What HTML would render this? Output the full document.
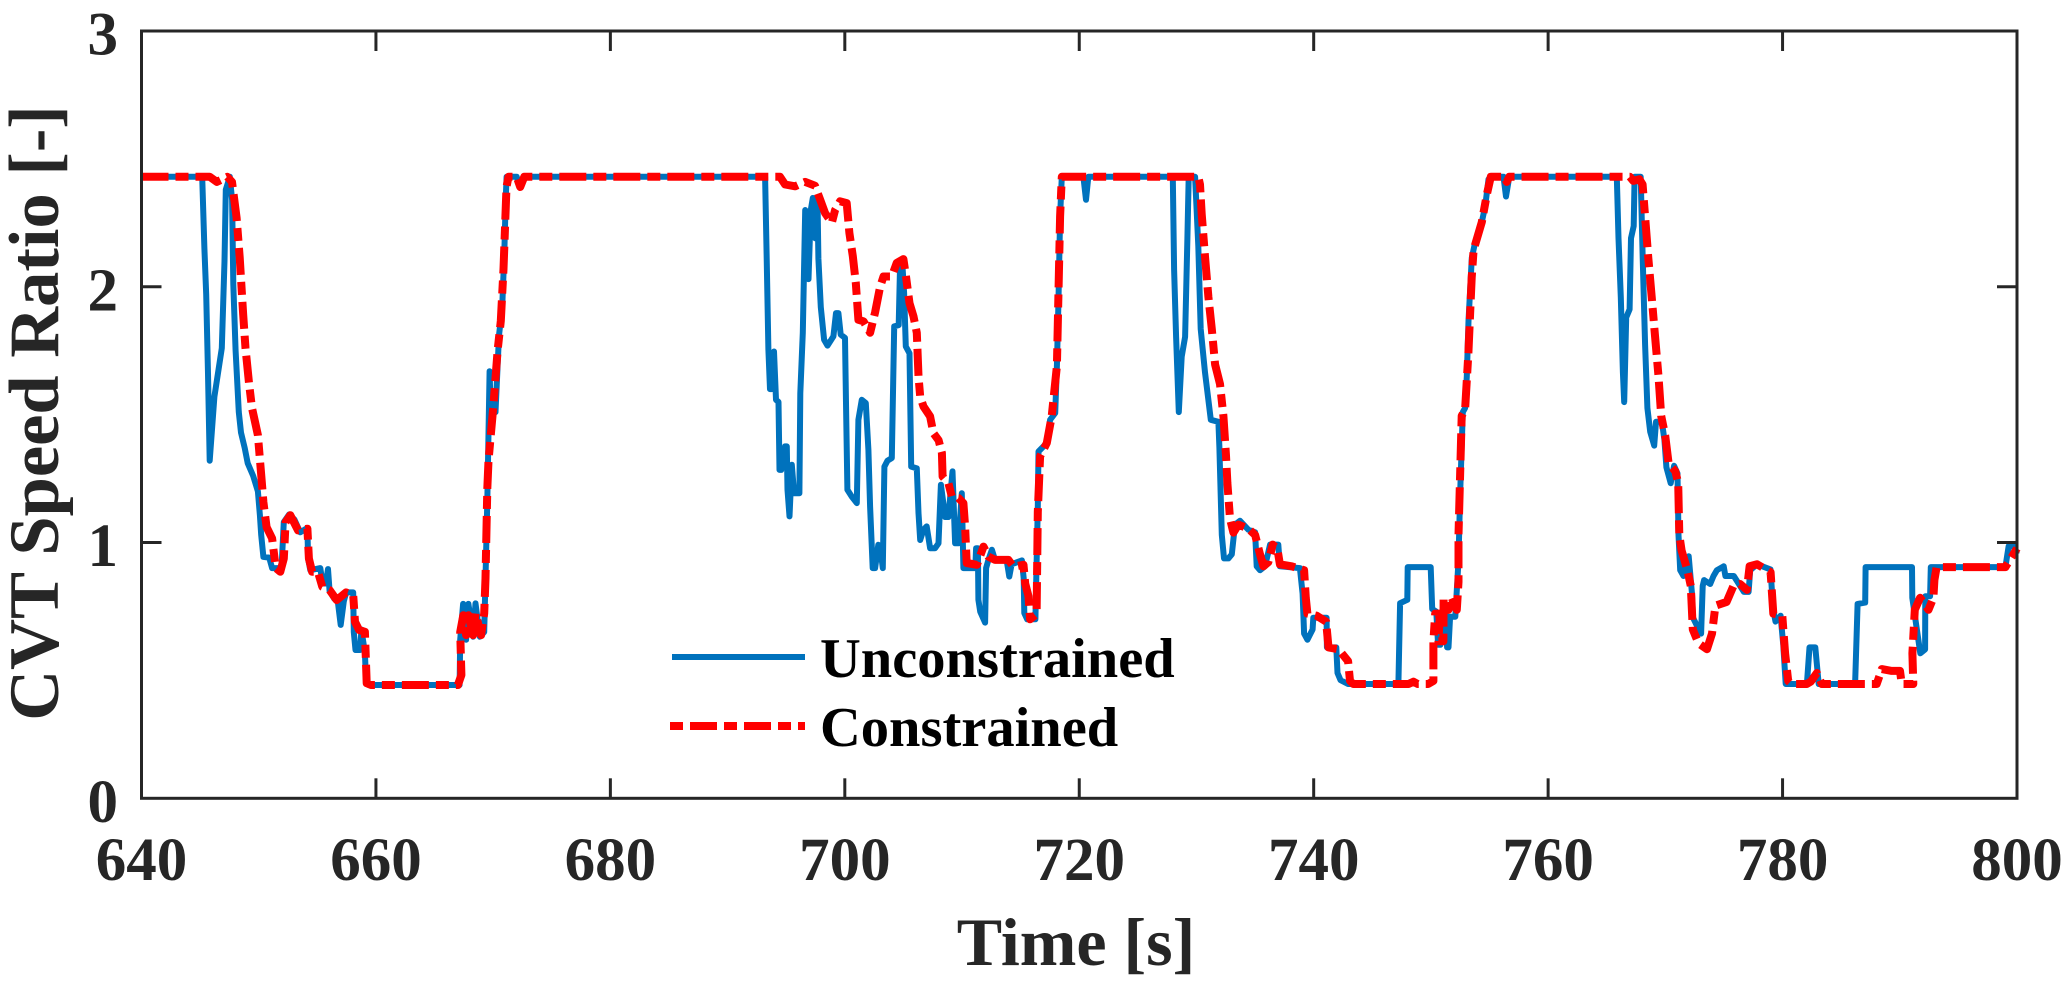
<!DOCTYPE html>
<html lang="en">
<head>
<meta charset="utf-8">
<title>CVT Speed Ratio vs Time</title>
<style>
html,body{margin:0;padding:0;background:#fff;}
svg{display:block;font-family:"Liberation Serif",serif;font-weight:bold;}
</style>
</head>
<body>
<svg id="chart" xmlns="http://www.w3.org/2000/svg" width="2067" height="988" viewBox="0 0 2067 988">
  <rect x="0" y="0" width="2067" height="988" fill="#fff"/>
  <g id="series-layer"></g>
  <g id="axis-layer"></g>
  <text x="1076" y="965" font-size="68" text-anchor="middle" fill="#262626">Time [s]</text>
  <text transform="translate(58,413) rotate(-90)" font-size="70.5" text-anchor="middle" fill="#262626">CVT Speed Ratio [-]</text>
  <g>
    <line x1="672" y1="657" x2="805" y2="657" stroke="#0072BD" stroke-width="6"/>
    <text x="820" y="677" font-size="56.5" fill="#000">Unconstrained</text>
    <line x1="670" y1="726" x2="805" y2="726" stroke="#FF0000" stroke-width="8" stroke-dasharray="13 7 27 7"/>
    <text x="820" y="746" font-size="56.5" fill="#000">Constrained</text>
  </g>
</svg>
<script>
const xTickLabels = [640, 660, 680, 700, 720, 740, 760, 780, 800];
const yTickLabels = [0, 1, 2, 3];

const unconstrainedTimes = [
640,645.18,645.37,645.52,645.67,645.82,646.22,646.85,647.08,647.19,
647.53,647.73,647.83,648.03,648.3,648.49,648.8,649.06,649.53,649.93,
650.1,650.21,650.4,650.89,651.14,651.94,652.14,652.6,653.04,653.54,
654.15,654.21,654.4,655.25,655.45,655.72,655.91,656.05,656.45,656.75,
656.99,657.26,657.46,658.06,658.11,658.26,658.66,658.76,659.06,659.16,
659.37,667.14,667.19,667.44,667.69,667.89,668.29,668.49,668.86,669.24,
669.35,669.5,669.7,669.8,670.2,670.5,670.77,670.95,671.07,671.15,
672.01,672.31,672.66,693.2,693.34,693.48,693.62,693.76,693.96,694.13,
694.34,694.43,694.57,694.91,695.05,695.11,695.28,695.48,695.67,696.13,
696.2,696.42,696.62,696.9,697.1,697.27,697.47,697.67,697.75,697.95,
698.23,698.52,699.03,699.25,699.45,699.65,700.02,700.1,700.22,700.59,
701.02,701.16,701.45,701.79,702.01,702.16,702.38,702.58,702.86,703.01,
703.24,703.38,703.64,704.01,704.21,704.6,704.72,704.89,705.06,705.2,
705.52,705.66,706.14,706.29,706.43,706.71,706.99,707.28,707.7,707.99,
708.2,708.56,708.84,709.19,709.41,709.7,709.98,710.12,711.13,711.2,
711.35,711.4,711.55,711.97,712.05,712.25,712.55,712.81,713.8,714.03,
714.23,715.11,715.26,715.31,715.56,716.26,716.46,716.52,717.23,717.51,
717.95,718.09,718.23,718.37,718.51,720.35,720.58,720.77,727.98,728.09,
728.26,728.49,728.74,729.03,729.23,729.34,729.88,730.16,730.36,730.73,
731.02,731.22,731.87,731.96,732.16,732.35,732.72,733.01,733.29,733.71,
734.42,735,735.14,735.42,735.85,736.28,736.98,737.12,738.82,739.05,
739.18,739.46,739.91,739.97,741.1,741.13,741.93,742.03,742.29,742.93,
747.23,747.37,747.99,748.02,749.98,750.11,750.46,750.61,750.81,750.96,
751.28,751.38,751.5,751.64,752.08,752.35,752.49,752.72,752.92,753.06,
753.21,753.49,753.78,754.34,754.63,754.91,755.11,756.19,756.41,756.69,
765.86,766,766.2,766.38,766.49,766.66,766.95,767.07,767.3,767.38,
767.9,768.07,768.27,768.47,768.71,769.05,769.2,769.71,769.92,770.09,
770.46,770.75,771.04,771.12,771.27,771.55,771.99,772.27,772.36,772.85,
773.05,773.19,773.31,773.83,774.11,774.4,774.98,775.12,775.84,776.7,
777.1,777.24,777.82,778.97,779.2,779.4,779.83,780.06,780.27,782.08,
782.3,782.79,783.08,786.19,786.4,787.05,787.08,791.04,791.07,791.75,
792.16,792.18,792.59,792.65,799.01,799.28,799.7,800
];
const unconstrainedRatios = [
2.43,2.43,2.15,1.97,1.66,1.32,1.57,1.76,2.1,2.38,
2.43,2.34,2.01,1.75,1.51,1.43,1.37,1.31,1.26,1.2,
1.107,1.03,.944,.941,.9,.9,1.08,1.11,1.09,1.04,
1.057,.937,.892,.9,.84,.84,.896,.81,.78,.77,
.678,.77,.805,.805,.65,.58,.58,.66,.57,.45,
.443,.443,.62,.76,.62,.76,.632,.762,.632,.65,
.86,1.16,1.67,1.5,1.51,1.81,1.92,2.13,2.34,2.43,
2.43,2.39,2.43,2.43,2.11,1.754,1.6,1.6,1.747,1.558,
1.55,1.284,1.284,1.376,1.376,1.206,1.102,1.304,1.193,1.193,
1.584,1.82,2.3,2.03,2.3,2.347,2.19,2.34,2.11,1.92,
1.793,1.77,1.806,1.897,1.897,1.813,1.8,1.545,1.206,1.18,
1.154,1.48,1.558,1.545,1.363,1.14,.9,.9,.991,.985,
.9,1.297,1.32,1.33,1.845,1.85,2.09,2.106,1.976,1.767,
1.74,1.297,1.29,1.115,1.01,1.05,1.063,.978,.978,.997,
1.226,1.1,1.1,1.278,.997,.997,1.193,.9,.9,.978,
.978,.776,.73,.687,.9,.932,.972,.932,.932,.867,
.915,.93,.86,.724,.7,.7,1.14,1.356,1.389,1.48,
1.506,1.69,1.95,2.275,2.43,2.43,2.34,2.43,2.43,2.067,
1.804,1.51,1.727,1.804,2.19,2.43,2.43,2.16,1.835,1.665,
1.557,1.48,1.472,1.371,1.03,.938,.938,.954,1.07,1.085,
1.05,1.04,.907,.892,.907,.992,.992,.907,.9,.8,
.644,.62,.66,.706,.706,.59,.59,.49,.462,.447,
.447,.763,.776,.904,.904,.74,.73,.6,.6,.73,
.72,.59,.59,.71,.71,.93,1.186,1.51,1.526,1.65,
1.866,2.113,2.175,2.253,2.315,2.42,2.43,2.43,2.353,2.43,
2.43,2.19,1.96,1.665,1.549,1.88,1.912,2.19,2.237,2.43,
2.43,2.113,1.773,1.526,1.433,1.379,1.472,1.472,1.402,1.294,
1.232,1.3,1.27,1.03,.892,.869,.946,.799,.706,.66,
.644,.83,.853,.838,.869,.892,.907,.869,.869,.807,
.807,.892,.915,.895,.737,.691,.714,.598,.447,.447,
.59,.59,.447,.447,.76,.765,.904,.904,.784,.567,
.582,.79,.79,.904,.904,.985,.985,.954
];

const constrainedTimes = [
640,645.82,646.42,647.32,647.72,648.11,648.38,648.68,648.87,649.18,
649.43,649.93,650.21,650.4,650.67,651.14,651.46,651.84,652.14,652.29,
652.69,653.35,654.15,654.28,654.55,655.05,655.42,656.05,656.65,657.45,
658.06,658.21,658.56,659.06,659.21,659.57,666.99,667.29,667.19,667.45,
667.69,667.89,668.29,668.49,668.97,669.24,669.35,669.5,669.6,670,
670.38,670.65,670.88,671.14,671.31,672.01,672.31,672.66,694.47,694.91,
695.76,696.61,697.46,697.9,698.32,698.89,699.17,699.6,700.16,700.39,
700.68,700.94,701.16,701.59,702.16,702.58,703.01,703.3,704.01,704.43,
705,705.22,705.52,705.86,706.14,706.29,706.43,706.71,707.28,707.56,
708,708.28,708.34,708.84,709.13,709.7,710.12,710.26,710.4,711.27,
711.83,712.25,712.82,713.96,714.38,715.24,715.39,715.67,715.81,716.36,
716.46,716.66,717.23,717.65,718.09,718.37,718.51,730.16,730.3,730.45,
730.74,731.02,731.31,731.59,732.01,732.3,732.52,732.64,732.86,733.15,
733.58,734.42,735,735.42,735.71,736.13,736.5,736.9,737.12,738.12,
739.18,739.33,739.46,740.25,741.06,741.26,742.11,742.94,743.1,743.39,
748.09,748.51,748.87,749.77,750.21,750.21,750.37,750.77,750.64,751.07,
751.08,751.5,751.78,752.21,752.35,752.35,752.63,752.92,753.2,753.48,
753.64,754.34,754.77,755.11,756.29,756.47,756.69,766.98,767.27,767.79,
768.06,768.26,768.55,768.84,769.13,769.42,769.65,769.99,770.28,770.86,
771.1,771.19,771.39,771.88,772.17,772.34,772.83,773.55,773.98,774.27,
775.23,775.81,776.38,776.96,777.19,777.83,778.98,779.21,779.98,780.22,
780.48,780.77,782.06,782.4,782.93,783.35,788.03,788.47,789.31,790.02,
790.16,791.15,791.08,791.28,791.73,792.45,792.87,792.95,793.14,799.01,
800
];
const constrainedRatios = [
2.43,2.43,2.41,2.43,2.41,2.27,2.115,1.89,1.76,1.62,
1.526,1.42,1.265,1.158,1.06,1.016,.9,.886,.937,1.08,
1.107,1.048,1.054,.937,.886,.886,.827,.814,.775,.805,
.795,.69,.658,.651,.45,.443,.443,.482,.65,.716,
.638,.716,.638,.723,.638,.723,.86,1.21,1.32,1.526,
1.75,1.866,2.07,2.39,2.43,2.43,2.39,2.43,2.43,2.4,
2.393,2.41,2.395,2.34,2.288,2.25,2.3,2.334,2.327,2.21,
2.12,2.015,1.871,1.865,1.82,1.9,2,2.04,2.04,2.093,
2.108,2.04,1.936,1.884,1.82,1.65,1.57,1.532,1.493,1.428,
1.4,1.35,1.258,1.232,1.18,1.174,1.154,1.063,.92,.913,
.984,.945,.932,.932,.906,.913,.84,.79,.7,.72,
1.12,1.337,1.389,1.493,1.69,2.275,2.43,2.43,2.4,2.284,
2.114,1.96,1.835,1.696,1.62,1.495,1.34,1.232,1.093,1.039,
1.07,1.054,1.03,.954,.907,.923,.992,.977,.915,.907,
.892,.784,.722,.714,.691,.59,.583,.536,.459,.447,
.447,.456,.447,.447,.459,.614,.722,.722,.614,.614,
.783,.737,.783,.737,.846,1.03,1.495,1.52,1.742,2.036,
2.144,2.253,2.36,2.43,2.43,2.41,2.43,2.43,2.414,2.42,
2.4,2.284,2.113,1.96,1.804,1.65,1.495,1.418,1.31,1.278,
1.232,1.03,.969,.892,.83,.66,.606,.583,.644,.753,
.768,.83,.838,.815,.907,.915,.884,.722,.714,.567,
.459,.447,.447,.456,.49,.447,.447,.505,.498,.498,
.447,.447,.567,.737,.784,.737,.784,.853,.904,.904,
.977
];

const NS = 'http://www.w3.org/2000/svg';
const plotLeft = 141.5, plotRight = 2017, plotTop = 31, plotBottom = 798.3;
const xMin = 640, xMax = 800, yMin = 0, yMax = 3;
const axisColor = '#262626';
const tickLength = 20;

function xScale(t) { return plotLeft + (t - xMin) / (xMax - xMin) * (plotRight - plotLeft); }
function yScale(v) { return plotBottom - (v - yMin) / (yMax - yMin) * (plotBottom - plotTop); }

function buildPath(times, values) {
  return times.map(function (t, i) {
    return (i ? 'L' : 'M') + xScale(t).toFixed(1) + ' ' + yScale(values[i]).toFixed(1);
  }).join('');
}

const seriesLayer = document.getElementById('series-layer');
const axisLayer = document.getElementById('axis-layer');

const blueLine = document.createElementNS(NS, 'path');


blueLine.setAttribute('d', buildPath(unconstrainedTimes, unconstrainedRatios));
blueLine.setAttribute('fill', 'none');
blueLine.setAttribute('stroke', '#0072BD');
blueLine.setAttribute('stroke-width', '6');
blueLine.setAttribute('stroke-linejoin', 'round');
seriesLayer.appendChild(blueLine);

const redLine = document.createElementNS(NS, 'path');


redLine.setAttribute('d', buildPath(constrainedTimes, constrainedRatios));
redLine.setAttribute('fill', 'none');
redLine.setAttribute('stroke', '#FF0000');
redLine.setAttribute('stroke-width', '8');
redLine.setAttribute('stroke-linejoin', 'round');
redLine.setAttribute('stroke-dasharray', '27 7 13 7');
seriesLayer.appendChild(redLine);

const frame = document.createElementNS(NS, 'rect');


frame.setAttribute('x', plotLeft);
frame.setAttribute('y', plotTop);
frame.setAttribute('width', plotRight - plotLeft);
frame.setAttribute('height', plotBottom - plotTop);
frame.setAttribute('fill', 'none');
frame.setAttribute('stroke', axisColor);
frame.setAttribute('stroke-width', '3');
axisLayer.appendChild(frame);

xTickLabels.forEach(function (label) {
  const x = xScale(label);
  if (label !== xMin && label !== xMax) {
    [[plotBottom, plotBottom - tickLength], [plotTop, plotTop + tickLength]].forEach(function (ends) {
      const tick = document.createElementNS(NS, 'line');
      
      
      tick.setAttribute('x1', x);
      tick.setAttribute('x2', x);
      tick.setAttribute('y1', ends[0]);
      tick.setAttribute('y2', ends[1]);
      tick.setAttribute('stroke', axisColor);
      tick.setAttribute('stroke-width', '3');
      axisLayer.appendChild(tick);
    });
  }
  const text = document.createElementNS(NS, 'text');
  
  
  text.setAttribute('x', x);
  text.setAttribute('y', 880);
  text.setAttribute('font-size', '61');
  text.setAttribute('text-anchor', 'middle');
  text.setAttribute('fill', axisColor);
  text.textContent = label;
  axisLayer.appendChild(text);
});

yTickLabels.forEach(function (label) {
  const y = yScale(label);
  if (label !== yMin && label !== yMax) {
    [[plotLeft, plotLeft + tickLength], [plotRight, plotRight - tickLength]].forEach(function (ends) {
      const tick = document.createElementNS(NS, 'line');
      
      
      tick.setAttribute('x1', ends[0]);
      tick.setAttribute('x2', ends[1]);
      tick.setAttribute('y1', y);
      tick.setAttribute('y2', y);
      tick.setAttribute('stroke', axisColor);
      tick.setAttribute('stroke-width', '3');
      axisLayer.appendChild(tick);
    });
  }
  const text = document.createElementNS(NS, 'text');
  
  
  text.setAttribute('x', 118);
  text.setAttribute('y', y + 23.5);
  text.setAttribute('font-size', '61');
  text.setAttribute('text-anchor', 'end');
  text.setAttribute('fill', axisColor);
  text.textContent = label;
  axisLayer.appendChild(text);
});
</script>
</body>
</html>
